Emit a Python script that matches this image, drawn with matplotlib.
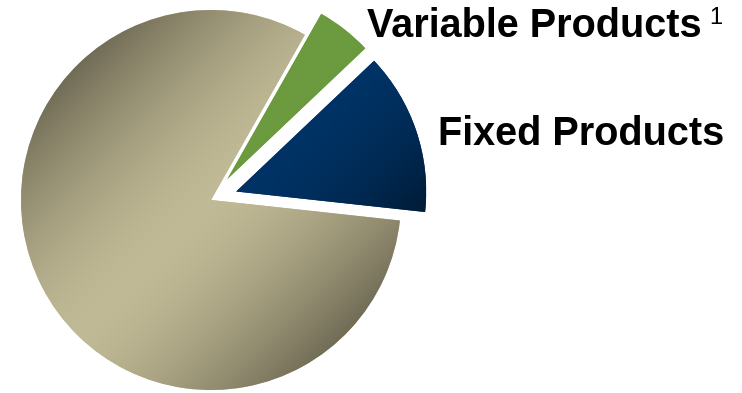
import matplotlib.pyplot as plt
import numpy as np

# Product mix (% of portfolio), drawn counter-clockwise from the start angle
labels = ["Fixed Products", "Variable Products", "Other"]
shares = [13.8, 4.7, 81.5]
explode = [0.14, 0.14, 0.0]

# light / dark end of each slice's shading
light_cols = ["#003366", "#6C9A3E", "#C1BA96"]
dark_cols = ["#00101F", "#5C8A34", "#716C56"]

W, H = 742, 393
R_PX = 190          # pie radius in pixels
CX, CY = 211, 200   # pie centre in pixels (from top-left)

fig = plt.figure(figsize=(W / 100, H / 100), dpi=100)
ax = fig.add_axes([0, 0, 1, 1])
ax.set_aspect("equal")
ax.axis("off")

wedges, _ = ax.pie(shares, explode=explode, startangle=-6.2,
                   counterclock=True, colors=light_cols,
                   wedgeprops={"linewidth": 0})


def hex_rgb(h):
    h = h.lstrip("#")
    return np.array([int(h[i:i + 2], 16) / 255 for i in (0, 2, 4)])


# shade each slice with a gradient image clipped to the wedge
for i, w in enumerate(wedges):
    cx, cy = w.center
    r = w.r
    n = 400
    xs = np.linspace(-r, r, n)
    ys = np.linspace(r, -r, n)
    X, Y = np.meshgrid(xs, ys)
    if i == 2:
        # light band running lower-left to upper-right
        d = np.abs(X - Y) / (np.sqrt(2) * r)
        d = np.clip(d, 0, 1) ** 1.6
    elif i == 0:
        d = np.clip((X - Y) / (np.sqrt(2) * r), 0, 1) ** 1.6
    else:
        d = np.clip((X - Y) / (np.sqrt(2) * r), 0, 1)
    lo, hi = hex_rgb(light_cols[i]), hex_rgb(dark_cols[i])
    img = lo[None, None, :] + (hi - lo)[None, None, :] * d[..., None]
    im = ax.imshow(img, extent=[cx - r, cx + r, cy - r, cy + r],
                   interpolation="bilinear", zorder=2)
    im.set_clip_path(w)
    w.set_zorder(1)

ax.set_xlim(-CX / R_PX, (W - CX) / R_PX)
ax.set_ylim(-(H - CY) / R_PX, CY / R_PX)


def px(x, y):
    return x / W, 1 - y / H


lab_font = ["Liberation Sans", "DejaVu Sans"]
fig.text(*px(367, 37), labels[1], fontsize=28.5, fontweight="bold",
         family=lab_font, va="baseline", ha="left")
fig.text(*px(709, 24), "1", fontsize=17, family=lab_font,
         va="baseline", ha="left")
fig.text(*px(438, 145), labels[0], fontsize=28.5, fontweight="bold",
         family=lab_font, va="baseline", ha="left")

fig.savefig("out.png", dpi=100)
